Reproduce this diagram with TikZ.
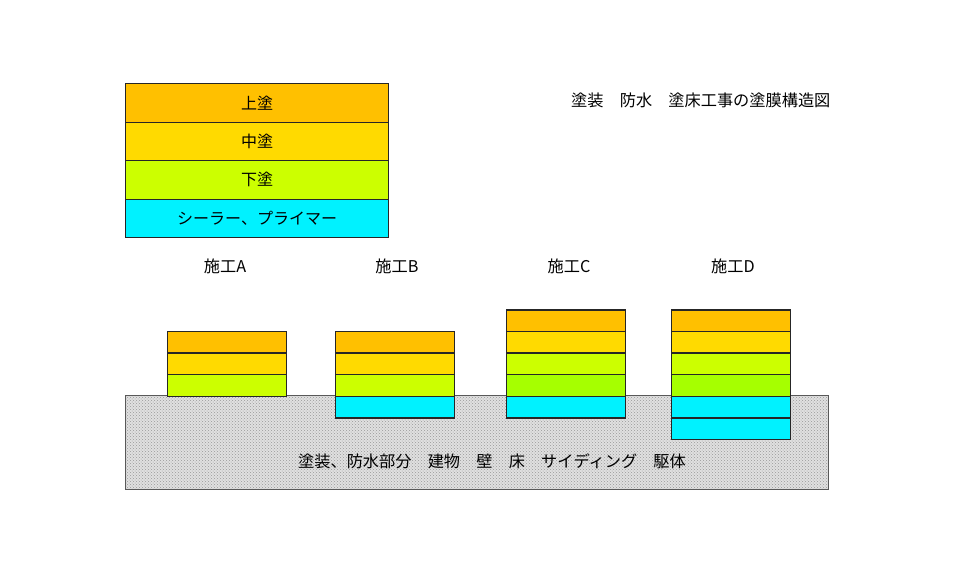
\documentclass[tikz,border=0pt]{standalone}
\usepackage{fontspec}
\setmainfont{Noto Sans CJK JP}
\usetikzlibrary{patterns}
\definecolor{cTop}{HTML}{FFC000}
\definecolor{cMid}{HTML}{FFDA00}
\definecolor{cLow}{HTML}{CCFF00}
\definecolor{cLowB}{HTML}{A6FF00}
\definecolor{cSeal}{HTML}{00F2FF}
\definecolor{cBase}{HTML}{E0E0E0}
\tikzset{
  coat/.style={draw=black!85, line width=1.3pt, inner sep=0pt, anchor=north west,
    minimum width=119pt, minimum height=21.6pt},
  legendcoat/.style={draw=black!85, line width=1.3pt, inner sep=0pt, anchor=north west,
    minimum width=263pt, minimum height=38.5pt, font=\fontsize{16}{19}\selectfont},
  lbl/.style={font=\fontsize{16.2}{19}\selectfont, inner sep=0pt},
  basebox/.style={fill=cBase, inner sep=0pt, anchor=north west,
    minimum width=703pt, minimum height=94pt}
}
\begin{document}
\begin{tikzpicture}[x=1pt,y=-1pt]
\useasboundingbox (0,0) rectangle (960,573);
% legend
\node[legendcoat, fill=cTop]  (L1) at (125,83) {上塗};
\node[legendcoat, fill=cMid]  (L2) at (125,121.5) {中塗};
\node[legendcoat, fill=cLow]  (L3) at (125,160) {下塗};
\node[legendcoat, fill=cSeal] (L4) at (125,198.5) {シーラー、プライマー};
\node[lbl, anchor=west] (title) at (571,100) {塗装　防水　塗床工事の塗膜構造図};
% base
\node[basebox] (base) at (125,395) {};
\fill[pattern=crosshatch dots, pattern color=gray!80] (base.north west) rectangle (base.south east);
\draw[draw=black!65, line width=1pt] (base.north west) rectangle (base.south east);
\node[lbl] (basetext) at (492,461) {塗装、防水部分　建物　壁　床　サイディング　駆体};
% labels
\node[lbl] (la) at (225,266) {施工A};
\node[lbl] (lb) at (397,266) {施工B};
\node[lbl] (lc) at (569,266) {施工C};
\node[lbl] (ld) at (733,266) {施工D};
% stack A
\node[coat, fill=cTop] (a1) at (167,330.8) {};
\node[coat, fill=cMid] (a2) at (167,352.4) {};
\node[coat, fill=cLow] (a3) at (167,374) {};
% stack B
\node[coat, fill=cTop]  (b1) at (335,330.8) {};
\node[coat, fill=cMid]  (b2) at (335,352.4) {};
\node[coat, fill=cLow]  (b3) at (335,374) {};
\node[coat, fill=cSeal] (b4) at (335,395.6) {};
% stack C
\node[coat, fill=cTop]  (c1) at (506,309.2) {};
\node[coat, fill=cMid]  (c2) at (506,330.8) {};
\node[coat, fill=cLow]  (c3) at (506,352.4) {};
\node[coat, fill=cLowB] (c4) at (506,374) {};
\node[coat, fill=cSeal] (c5) at (506,395.6) {};
% stack D
\node[coat, fill=cTop]  (d1) at (671,309.2) {};
\node[coat, fill=cMid]  (d2) at (671,330.8) {};
\node[coat, fill=cLow]  (d3) at (671,352.4) {};
\node[coat, fill=cLowB] (d4) at (671,374) {};
\node[coat, fill=cSeal] (d5) at (671,395.6) {};
\node[coat, fill=cSeal] (d6) at (671,417.2) {};
\end{tikzpicture}
\end{document}
